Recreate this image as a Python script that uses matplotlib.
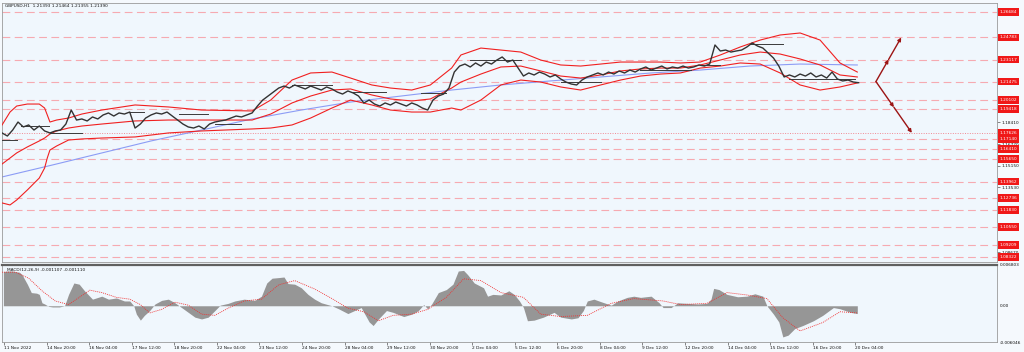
import numpy as np
import matplotlib.pyplot as plt

# GBPUSD H1 closes, one sample every 4 hourly bars
bar_step = 4
close = [1.1762, 1.1739, 1.1784, 1.1844, 1.1807, 1.1822, 1.1784, 1.1814, 1.1777, 1.1762,
         1.1777, 1.1784, 1.1829, 1.1934, 1.1859, 1.1867, 1.1852, 1.1882, 1.1867, 1.1897,
         1.1912, 1.1889, 1.1912, 1.1904, 1.1919, 1.1799, 1.1829, 1.1874, 1.1897, 1.1912,
         1.1904, 1.1919, 1.1889, 1.1859, 1.1829, 1.1807, 1.1799, 1.1814, 1.1792, 1.1829,
         1.1844, 1.1852, 1.1859, 1.1874, 1.1889, 1.1882, 1.1897, 1.1912, 1.1964, 1.2009,
         1.2039, 1.2069, 1.2099, 1.2114, 1.2099, 1.2122, 1.2107, 1.2092, 1.2114, 1.2099,
         1.2084, 1.2107, 1.2092, 1.2069, 1.2054, 1.2077, 1.2062, 1.2039, 1.1987, 1.2009,
         1.1979, 1.1964, 1.1987, 1.1972, 1.1994, 1.1979, 1.1964, 1.1987, 1.1972, 1.1949,
         1.1934, 1.2009, 1.2039, 1.2054, 1.2099, 1.2219, 1.2264, 1.2279, 1.2257, 1.2287,
         1.2264, 1.2294, 1.2279, 1.2309, 1.2332, 1.2294, 1.2309, 1.2249, 1.2189, 1.2212,
         1.2197, 1.2219, 1.2204, 1.2182, 1.2197, 1.2167, 1.2144, 1.2129, 1.2122, 1.2159,
         1.2182, 1.2197, 1.2212, 1.2197, 1.2219, 1.2204, 1.2227, 1.2212, 1.2234, 1.2219,
         1.2242, 1.2257, 1.2234, 1.2249, 1.2264, 1.2242, 1.2257, 1.2249, 1.2264, 1.2249,
         1.2257, 1.2272, 1.2264, 1.2279, 1.2422, 1.2377, 1.2384, 1.2369, 1.2377, 1.2384,
         1.2407, 1.2437, 1.2414, 1.2399, 1.2362, 1.2324, 1.2264, 1.2182, 1.2197, 1.2182,
         1.2204, 1.2189, 1.2212, 1.2182, 1.2197, 1.2174, 1.2219, 1.2167, 1.2152, 1.2159,
         1.2144, 1.2139]

# Bollinger bands and moving average, sampled at these bars
bb_bar = [0, 6, 11, 19, 28, 32, 34, 36, 41, 50, 60, 75, 100, 125, 150, 188, 202, 218, 232, 248,
          262, 278, 292, 308, 322, 338, 345, 360, 375, 390, 405, 420, 435, 450, 465, 480, 495,
          510, 525, 540, 555, 570, 585, 600, 615, 630, 643]
bb_upper = [1.1822, 1.1919, 1.1964, 1.1979, 1.1979, 1.1949, 1.1897, 1.1844, 1.1859, 1.1874,
            1.1904, 1.1934, 1.1972, 1.1957, 1.1934, 1.1927, 1.2009, 1.2159, 1.2212, 1.2219,
            1.2174, 1.2122, 1.2099, 1.2084, 1.2122, 1.2249, 1.2347, 1.2399, 1.2384, 1.2369,
            1.2309, 1.2272, 1.2264, 1.2279, 1.2294, 1.2294, 1.2294, 1.2287, 1.2294, 1.2347,
            1.2407, 1.2459, 1.2497, 1.2512, 1.2459, 1.2287, 1.2219]
bb_mid = [1.1529, 1.1574, 1.1612, 1.1657, 1.1702, 1.1724, 1.1739, 1.1754, 1.1777, 1.1799,
          1.1814, 1.1829, 1.1852, 1.1859, 1.1859, 1.1859, 1.1904, 1.1987, 1.2039, 1.2084,
          1.2092, 1.2047, 1.2017, 1.2002, 1.2017, 1.2099, 1.2144, 1.2204, 1.2257, 1.2264,
          1.2227, 1.2189, 1.2174, 1.2197, 1.2227, 1.2242, 1.2249, 1.2249, 1.2272, 1.2309,
          1.2347, 1.2369, 1.2354, 1.2317, 1.2272, 1.2197, 1.2182]
bb_lower = [1.1237, 1.1222, 1.1259, 1.1334, 1.1424, 1.1499, 1.1574, 1.1634, 1.1664, 1.1709,
            1.1717, 1.1724, 1.1732, 1.1762, 1.1777, 1.1792, 1.1799, 1.1822, 1.1874, 1.1949,
            1.2009, 1.1972, 1.1934, 1.1919, 1.1919, 1.1949, 1.1934, 1.2009, 1.2122, 1.2159,
            1.2144, 1.2107, 1.2084, 1.2122, 1.2159, 1.2189, 1.2204, 1.2212, 1.2249, 1.2264,
            1.2287, 1.2279, 1.2212, 1.2122, 1.2084, 1.2107, 1.2137]

ma_bar = [0, 38, 75, 112, 150, 188, 225, 262, 300, 338, 375, 412, 450, 488, 525, 562, 600, 643]
ma_val = [1.1432, 1.1522, 1.1612, 1.1702, 1.1784, 1.1867, 1.1934, 1.1994, 1.2039, 1.2084,
          1.2122, 1.2152, 1.2182, 1.2212, 1.2234, 1.2264, 1.2279, 1.2272]

# short horizontal level segments (start bar, end bar, price)
segments = [(0, 11, 1.1709), (14, 35, 1.1814), (36, 60, 1.1762), (95, 107, 1.1919),
            (133, 155, 1.1904), (160, 180, 1.1829), (218, 248, 1.2122), (262, 289, 1.2069),
            (315, 334, 1.2062), (352, 390, 1.2309), (420, 450, 1.2144), (480, 518, 1.2234),
            (525, 540, 1.2272), (562, 587, 1.2429), (592, 641, 1.2167)]

# support / resistance levels with red labels
levels = [1.26684, 1.24783, 1.23117, 1.21475, 1.20102, 1.19418, 1.17626, 1.17140,
          1.16410, 1.15650, 1.13962, 1.12736, 1.11830, 1.10550, 1.09209, 1.08322]
dotted_level = 1.17626
# plain scale labels that are not hidden behind a red label
price_ticks = [1.18410, 1.16770, 1.15150, 1.13530, 1.08670]

# projected scenario arrows
arrow_start = (657, 1.21475)
arrow_up = (676, 1.24783)
arrow_down = (684, 1.17626)

# MACD(12,26,9)
macd_bar = [1, 4, 8, 10, 13, 15, 19, 22, 26, 28, 30, 32, 35, 38, 43, 45, 47, 50, 54, 58,
            62, 68, 75, 80, 86, 92, 96, 99, 101, 104, 107, 111, 115, 120, 125, 130, 135, 140, 145, 150,
            155, 160, 164, 170, 175, 182, 190, 195, 199, 203, 208, 212, 215, 220, 225, 230, 235, 240, 248, 253,
            260, 265, 270, 272, 276, 279, 283, 289, 294, 302, 308, 313, 317, 320, 323, 328, 334, 339, 343, 347,
            350, 355, 362, 365, 369, 375, 381, 385, 389, 392, 395, 400, 407, 415, 420, 428, 433, 437, 440, 445,
            450, 458, 463, 470, 475, 480, 488, 494, 497, 503, 508, 515, 523, 530, 533, 535, 539, 545, 553, 560,
            566, 572, 575, 580, 584, 587, 591, 596, 602, 610, 617, 625, 630, 638, 643]
macd_hist = [0.0057, 0.0058, 0.0058, 0.0057, 0.0056, 0.0052, 0.0036, 0.0022, 0.0021, 0.0019,
             0.0005, 0.0003, -0.0001, -0.0002, -0.0002, -0.0001, 0.0000, 0.0019, 0.0038, 0.0036,
             0.0025, 0.0011, 0.0016, 0.0011, 0.0013, 0.0008, 0.0008, 0.0000, -0.0014, -0.0024,
             -0.0016, -0.0008, 0.0003, 0.0009, 0.0011, 0.0005, -0.0003, -0.0011, -0.0019, -0.0022,
             -0.0019, -0.0008, 0.0001, 0.0004, 0.0008, 0.0011, 0.0009, 0.0016, 0.0038, 0.0046,
             0.0047, 0.0048, 0.0037, 0.0036, 0.0030, 0.0019, 0.0011, 0.0005, 0.0000, -0.0005,
             -0.0013, -0.0008, -0.0003, -0.0011, -0.0027, -0.0033, -0.0022, -0.0008, -0.0011, -0.0018,
             -0.0014, -0.0008, 0.0002, -0.0005, 0.0003, 0.0022, 0.0027, 0.0036, 0.0058, 0.0059,
             0.0052, 0.0038, 0.0030, 0.0016, 0.0019, 0.0018, 0.0025, 0.0019, 0.0008, -0.0003,
             -0.0025, -0.0024, -0.0019, -0.0011, -0.0019, -0.0022, -0.0020, -0.0008, 0.0008, 0.0011,
             0.0007, 0.0001, 0.0008, 0.0014, 0.0016, 0.0014, 0.0016, 0.0005, -0.0003, -0.0003,
             0.0005, 0.0004, 0.0003, 0.0004, 0.0011, 0.0029, 0.0027, 0.0019, 0.0015, 0.0016,
             0.0020, 0.0016, 0.0000, -0.0014, -0.0027, -0.0052, -0.0049, -0.0038, -0.0033, -0.0025,
             -0.0016, -0.0003, -0.0005, -0.0011, -0.0013]
sig_bar = [0, 10, 20, 30, 40, 50, 58, 66, 75, 86, 96, 104, 111, 120, 130, 140, 150, 160, 170, 182,
           195, 208, 220, 235, 248, 260, 272, 283, 294, 308, 320, 334, 347, 360, 375, 392, 405, 420,
           440, 458, 475, 497, 510, 530, 545, 560, 575, 587, 600, 617, 630, 643]
sig_val = [0.0056, 0.0056, 0.0046, 0.0025, 0.0008, 0.0002, 0.0014, 0.0026, 0.0022, 0.0014,
           0.0011, 0.0002, -0.0012, -0.0006, 0.0006, 0.0001, -0.0014, -0.0016, -0.0004, 0.0008,
           0.0011, 0.0035, 0.0042, 0.0028, 0.0012, -0.0004, -0.0010, -0.0025, -0.0016, -0.0014,
           -0.0006, 0.0014, 0.0045, 0.0042, 0.0022, 0.0014, -0.0014, -0.0018, -0.0016, 0.0004,
           0.0012, 0.0008, 0.0002, 0.0004, 0.0022, 0.0018, 0.0012, -0.0020, -0.0042, -0.0028,
           -0.0010, -0.0012]
macd_top, macd_bottom = 0.006803, -0.006046

time_labels = ['11 Nov 2022', '14 Nov 20:00', '16 Nov 04:00', '17 Nov 12:00', '18 Nov 20:00',
               '22 Nov 04:00', '23 Nov 12:00', '24 Nov 20:00', '28 Nov 04:00', '29 Nov 12:00',
               '30 Nov 20:00', '2 Dec 04:00', '5 Dec 12:00', '6 Dec 20:00', '8 Dec 04:00',
               '9 Dec 12:00', '12 Dec 20:00', '14 Dec 04:00', '15 Dec 12:00', '16 Dec 20:00',
               '20 Dec 04:00']
title = 'GBPUSD,H1  1.21393 1.21464 1.21355 1.21390'
macd_title = 'MACD(12,26,9) -0.001107 -0.001110'

bg = '#f0f7fd'
fs = 3.1
txt = '#111111'

fig = plt.figure(figsize=(10.24, 3.52), dpi=100, facecolor='#f5f9fd')
ax = fig.add_axes([0.002, 0.2557, 0.9716, 0.7358], facecolor=bg)
axm = fig.add_axes([0.002, 0.0284, 0.9716, 0.2188], facecolor=bg, sharex=ax)

x_max = 748
ax.set_xlim(0, x_max)
ax.set_ylim(1.0794, 1.2737)

for lv in levels:
    if lv == dotted_level:
        ax.axhline(lv, color='#f08a94', lw=0.7, ls=(0, (1, 1.5)), zorder=1)
    else:
        ax.axhline(lv, color='#f6aab1', lw=0.8, ls=(0, (7, 4)), zorder=1)

ax.plot(ma_bar, ma_val, color='#8c9cf5', lw=0.8, zorder=2)
ax.plot(bb_bar, bb_upper, color='#f02020', lw=0.8, zorder=3)
ax.plot(bb_bar, bb_mid, color='#f02020', lw=0.8, zorder=3)
ax.plot(bb_bar, bb_lower, color='#f02020', lw=0.8, zorder=3)

for b0, b1, p in segments:
    ax.plot([b0, b1], [p, p], color='#3a3a3a', lw=0.7, zorder=4)

close_bar = np.arange(len(close)) * bar_step
ax.plot(close_bar, close, color='#333333', lw=1.0, zorder=5)

arrow_col = '#9c1414'
for end in (arrow_up, arrow_down):
    mid = ((arrow_start[0] + end[0]) / 2, (arrow_start[1] + end[1]) / 2)
    for a, b in ((arrow_start, mid), (mid, end)):
        ax.annotate('', xy=b, xytext=a,
                    arrowprops=dict(arrowstyle='-|>', color=arrow_col, lw=1.0,
                                    mutation_scale=5, shrinkA=0, shrinkB=0), zorder=6)

ax.text(2, 1.2712, title, fontsize=fs, color=txt, va='center', ha='left')

# right price scale
ax.yaxis.tick_right()
ax.set_yticks(price_ticks)
ax.set_yticklabels([f'{t:.5f}' for t in price_ticks], fontsize=fs)
ax.tick_params(axis='y', length=2, width=0.5, pad=1.5, colors='#555555')
for lbl in ax.get_yticklabels():
    lbl.set_color(txt)
ax.tick_params(axis='x', length=0, labelbottom=False)
for lv in levels:
    ax.annotate(f'{lv:.5f}', xy=(1.0025, lv), xycoords=('axes fraction', 'data'),
                fontsize=fs, color='white', va='center', ha='left', annotation_clip=False,
                bbox=dict(boxstyle='square,pad=0.4', fc='#f01818', ec='none'), zorder=10)

# MACD panel
axm.set_ylim(macd_bottom, macd_top)
axm.fill_between(macd_bar, 0, macd_hist, color='#969696', lw=0, zorder=2)
axm.plot(sig_bar, sig_val, color='#f03030', lw=0.6, ls=(0, (1.2, 1.2)), zorder=3)
axm.text(4, 0.0060, macd_title, fontsize=fs, color=txt, va='center', ha='left')
axm.yaxis.tick_right()
axm.set_yticks([macd_top, 0.0, macd_bottom])
axm.set_yticklabels(['0.006803', '0.00', '-0.006046'], fontsize=fs)
axm.tick_params(axis='y', length=0, pad=2)

tick_bars = 1.5 + 32 * np.arange(len(time_labels))
axm.set_xticks(tick_bars)
axm.set_xticklabels(time_labels, fontsize=fs)
axm.tick_params(axis='x', length=2, width=0.5, pad=1, colors='#555555')
for lbl in axm.get_xticklabels():
    lbl.set_horizontalalignment('left')
    lbl.set_color(txt)
for lbl in axm.get_yticklabels():
    lbl.set_color(txt)

for a in (ax, axm):
    for s in a.spines.values():
        s.set_color('#9a9a9a')
        s.set_linewidth(0.6)
axm.spines['top'].set_color('#606060')
axm.spines['top'].set_linewidth(1.6)

fig.savefig('out.png', dpi=100, facecolor=fig.get_facecolor())
